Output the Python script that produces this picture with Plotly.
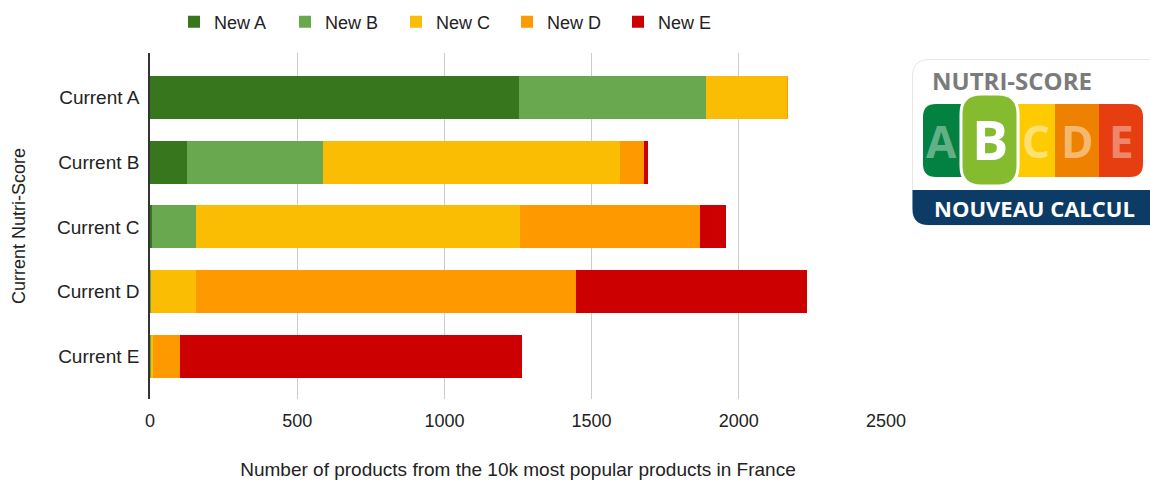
import plotly.graph_objects as go

categories = ["Current A", "Current B", "Current C", "Current D", "Current E"]
series_names = ["New A", "New B", "New C", "New D", "New E"]
new_a = [1253, 124, 8, 0, 0]
new_b = [636, 465, 148, 2, 4]
new_c = [275, 1008, 1102, 154, 6]
new_d = [3, 80, 610, 1292, 93]
new_e = [0, 15, 88, 785, 1161]
colors = ["#38761d", "#6aa84f", "#fbbc04", "#ff9900", "#cc0000"]
x_ticks = [0, 500, 1000, 1500, 2000, 2500]

FONT = "Liberation Sans, Arial, sans-serif"
TXT = "#222222"
W, H = 1150, 480
ML, MR, MT, MB = 150, 264, 53, 81
PW, PH = W - ML - MR, H - MT - MB


def px(x):
    return (x - ML) / PW


def py(y):
    return 1 - (y - MT) / PH


fig = go.Figure()
for name, vals, col in zip(series_names, [new_a, new_b, new_c, new_d, new_e], colors):
    fig.add_trace(go.Bar(y=categories, x=vals, name=name, orientation="h",
                         marker=dict(color=col, line=dict(width=0))))


# ---- logo helpers (pixel paths anchored at plot top-left) ----
def P(x, y):
    return f"{x - ML:.1f},{-(y - MT):.1f}"


def rrect(x0, y0, x1, y1, r, corners=(1, 1, 1, 1)):
    tl, tr, br, bl = [r * c for c in corners]
    s = f"M {P(x0 + tl, y0)} L {P(x1 - tr, y0)} "
    s += f"Q {P(x1, y0)} {P(x1, y0 + tr)} " if tr else ""
    s += f"L {P(x1, y1 - br)} "
    s += f"Q {P(x1, y1)} {P(x1 - br, y1)} " if br else ""
    s += f"L {P(x0 + bl, y1)} "
    s += f"Q {P(x0, y1)} {P(x0, y1 - bl)} " if bl else ""
    s += f"L {P(x0, y0 + tl)} "
    s += f"Q {P(x0, y0)} {P(x0 + tl, y0)} " if tl else ""
    return s + "Z"


def add_path(path, fill, line_color=None, line_width=0):
    fig.add_shape(type="path", path=path, xref="paper", yref="paper",
                  xsizemode="pixel", ysizemode="pixel", xanchor=0, yanchor=1,
                  fillcolor=fill, line=dict(color=line_color or fill, width=line_width),
                  layer="above")


# white card
add_path(rrect(912.5, 59.5, 1165, 225, 16), "white", "#e6e6e6", 1)
# blue band
add_path(rrect(912.5, 190, 1165, 225, 16, (0, 0, 0, 1)), "#0c3b66")
# colour band
add_path(rrect(923, 104, 975, 177, 13, (1, 0, 0, 1)), "#038141")
add_path(rrect(1012, 104, 1058, 177, 0, (0, 0, 0, 0)), "#fecb02")
add_path(rrect(1055, 104, 1100, 177, 0, (0, 0, 0, 0)), "#ee8100")
add_path(rrect(1099, 104, 1143, 177, 13, (0, 1, 1, 0)), "#e63e11")
# B bubble
add_path(rrect(961, 94, 1018, 186, 20), "#85bb2f", "white", 3)

LOGO_FONT = "Open Sans, Roboto, sans-serif"
annotations = [
    dict(text="<b>NUTRI-SCORE</b>", x=px(1012), y=py(81), font=dict(size=24, color="#7b7b7b", family=LOGO_FONT)),
    dict(text="<b>A</b>", x=px(941), y=py(141), font=dict(size=44, color="rgba(255,255,255,0.4)", family=LOGO_FONT)),
    dict(text="<b>B</b>", x=px(990), y=py(139), font=dict(size=54, color="white", family=LOGO_FONT)),
    dict(text="<b>C</b>", x=px(1036), y=py(141), font=dict(size=44, color="rgba(255,255,255,0.45)", family=LOGO_FONT)),
    dict(text="<b>D</b>", x=px(1077), y=py(141), font=dict(size=44, color="rgba(255,255,255,0.45)", family=LOGO_FONT)),
    dict(text="<b>E</b>", x=px(1121), y=py(141), font=dict(size=44, color="rgba(255,255,255,0.4)", family=LOGO_FONT)),
    dict(text="<b>NOUVEAU CALCUL</b>", x=px(1034), y=py(208), font=dict(size=22, color="white", family=LOGO_FONT)),
]
for a in annotations:
    a.update(xref="paper", yref="paper", showarrow=False, xanchor="center", yanchor="middle")

fig.update_layout(
    width=W, height=H,
    margin=dict(l=ML, r=MR, t=MT, b=MB, pad=0, autoexpand=False),
    barmode="stack", bargap=0.336,
    paper_bgcolor="white", plot_bgcolor="white",
    font=dict(family=FONT, size=18, color=TXT),
    annotations=annotations,
    legend=dict(orientation="h", x=px(174), xanchor="left", y=py(22), yanchor="middle",
                font=dict(size=18, color=TXT), entrywidth=66, entrywidthmode="pixels",
                traceorder="normal", itemclick=False),
    xaxis=dict(range=[0, 2500], tickvals=x_ticks, ticktext=[str(t) for t in x_ticks],
               showgrid=True, gridcolor="#cccccc", gridwidth=1, zeroline=False,
               showline=False, ticks="", ticklabelstandoff=9, automargin=False,
               tickfont=dict(size=18, color=TXT),
               title=dict(text="Number of products from the 10k most popular products in France",
                          font=dict(size=19, color=TXT), standoff=40)),
    yaxis=dict(range=[4.656, -0.683], showline=True, linecolor="#333333", linewidth=1.5,
               showgrid=False, ticks="", ticklabelstandoff=5, automargin=False,
               tickfont=dict(size=19, color=TXT),
               title=dict(text="Current Nutri-Score", font=dict(size=18, color=TXT), standoff=27)),
)

fig.write_html("out.html", config={"displayModeBar": False},
               post_script="document.body.style.margin='0';document.body.style.overflow='hidden';")
